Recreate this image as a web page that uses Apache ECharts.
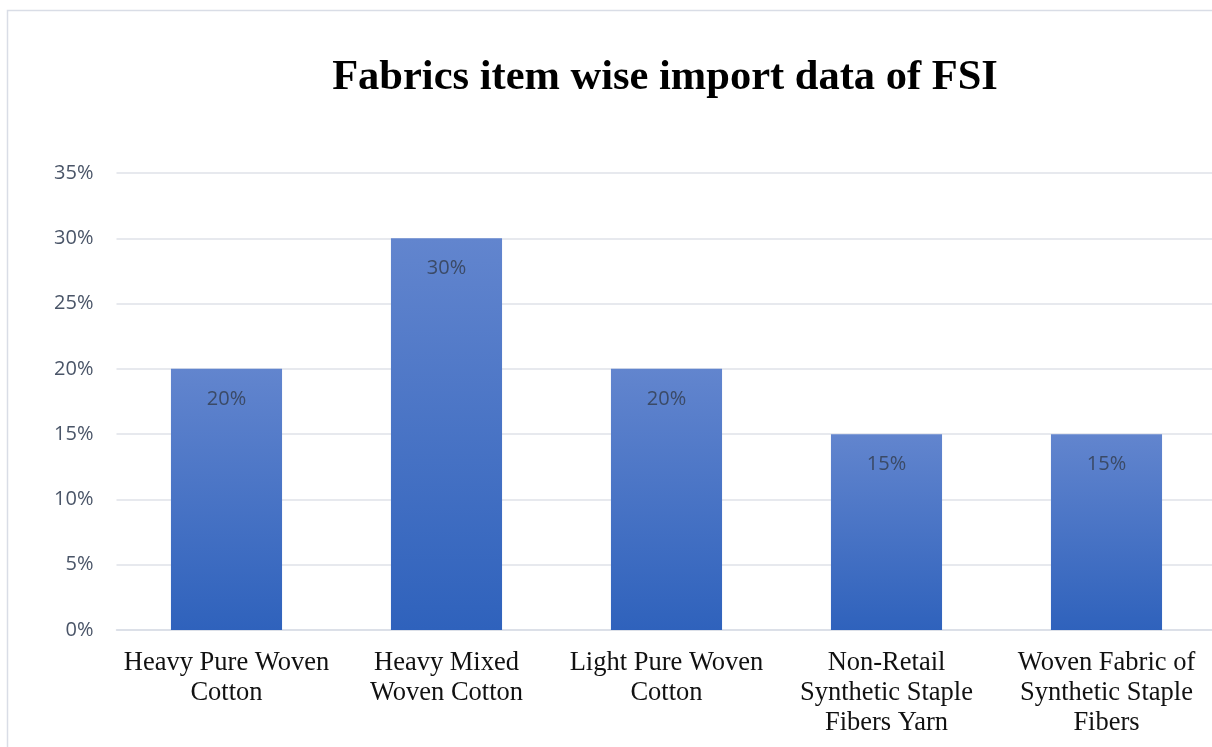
<!DOCTYPE html>
<html><head><meta charset="utf-8">
<script src="https://cdn.jsdelivr.net/npm/echarts@6/dist/echarts.min.js"></script>
<style>html,body{margin:0;padding:0;background:#fff;overflow:hidden}#c{width:1222px;height:747px}</style>
</head><body><div id="c"></div>
<script>
const categories = ["Heavy Pure Woven\nCotton","Heavy Mixed\nWoven Cotton","Light Pure Woven\nCotton","Non-Retail\nSynthetic Staple\nFibers Yarn","Woven Fabric of\nSynthetic Staple\nFibers"];
const values = [20, 30, 20, 15, 15];
const yTicks = [0, 5, 10, 15, 20, 25, 30, 35];
const chart = echarts.init(document.getElementById('c'));
chart.setOption({
  animation:false,
  graphic:[{type:'rect',shape:{x:7.5,y:10.5,width:1300,height:800},style:{fill:'none',stroke:'#d9dde6',lineWidth:1.5},silent:true}],
  title:{text:'Fabrics item wise import data of FSI',left:660,top:52,textAlign:'center',
    textStyle:{fontFamily:'Liberation Serif',fontWeight:'bold',fontSize:42.5,color:'#000'}},
  grid:{left:116.5,right:5.5,top:173,bottom:117,containLabel:false},
  xAxis:{type:'category',data:categories,
    axisLine:{lineStyle:{color:'#d9dde6',width:1.5}},axisTick:{show:false},
    axisLabel:{fontFamily:'Liberation Serif',fontSize:26.5,color:'#111',lineHeight:30,margin:18,interval:0}},
  yAxis:{type:'value',min:0,max:35,interval:5,
    axisLine:{show:false},axisTick:{show:false},
    splitLine:{lineStyle:{color:'#dfe2e8',width:1.5}},
    axisLabel:{formatter:v=>v+'%',fontFamily:'Open Sans',fontSize:20,color:'#4a5568',margin:23}},
  series:[{type:'bar',data:values,barWidth:'50.5%',
    itemStyle:{color:new echarts.graphic.LinearGradient(0,0,0,1,[{offset:0,color:'#6285ce'},{offset:1,color:'#2f62bc'}])},
    label:{show:true,position:'insideTop',distance:20,formatter:p=>p.value+'%',
      fontFamily:'Open Sans',fontSize:20,color:'#3b4a66'}}]
});
</script></body></html>
